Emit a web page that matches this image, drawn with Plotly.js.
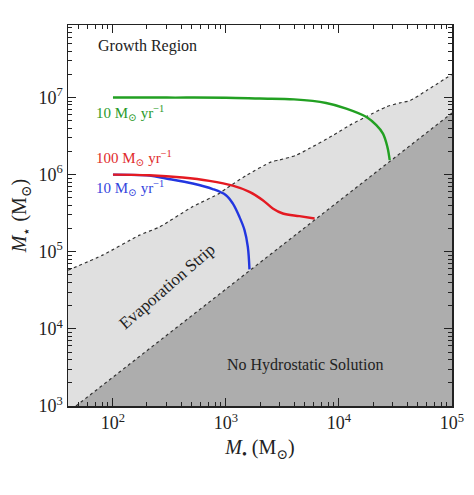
<!DOCTYPE html>
<html>
<head>
<meta charset="utf-8">
<script src="https://cdn.plot.ly/plotly-3.0.1.min.js"></script>
<style>html,body{margin:0;padding:0;background:#fff;}#chart{width:474px;height:495px;}</style>
</head>
<body>
<div id="chart"></div>
<script>
// Upper edge of the evaporation strip (dotted)
const stripTopX = [40, 81, 172, 257, 501, 871, 1007, 1514, 2512, 2985, 4169, 5495, 8913, 12450, 17380, 26300, 34670, 42660, 59570, 100000];
const stripTopY = [5.75e4, 9.04e4, 1.64e5, 2.09e5, 3.80e5, 5.69e5, 6.61e5, 9.77e5, 1.46e6, 1.55e6, 1.78e6, 2.19e6, 3.24e6, 4.37e6, 5.62e6, 7.59e6, 8.51e6, 9.12e6, 1.23e7, 2.0e7];
// Boundary of the no-hydrostatic-solution region (dotted)
const noHydroX = [47, 100000];
const noHydroY = [1e3, 6.3e6];
// Growth tracks
const green10X = [100, 300, 1000, 2000, 4000, 7700, 11600, 17500, 21400, 24500, 26800, 28100];
const green10Y = [1.0e7, 9.97e6, 9.93e6, 9.68e6, 9.44e6, 8.49e6, 7.18e6, 5.58e6, 4.37e6, 3.40e6, 2.29e6, 1.54e6];
const red100X = [100, 210, 414, 713, 1148, 1614, 2118, 2594, 3184, 4467, 6081];
const red100Y = [1e6, 9.82e5, 9.16e5, 8.28e5, 7.18e5, 5.97e5, 4.66e5, 3.64e5, 3.13e5, 2.89e5, 2.70e5];
const blue10X = [100, 210, 295, 508, 764, 1000, 1148, 1315, 1459, 1560, 1614];
const blue10Y = [1e6, 9.7e5, 8.91e5, 7.67e5, 6.5e5, 5.41e5, 4.23e5, 2.83e5, 1.91e5, 1.16e5, 5.9e4];
// Axes
const xMin = 40, xMax = 1e5, yMin = 1e3, yMax = 8.7e7;
const xTickVals = [100, 1000, 10000, 100000];
const xTickText = ['10<sup>2</sup>', '10<sup>3</sup>', '10<sup>4</sup>', '10<sup>5</sup>'];
const yTickVals = [1e3, 1e4, 1e5, 1e6, 1e7];
const yTickText = ['10<sup>3</sup>', '10<sup>4</sup>', '10<sup>5</sup>', '10<sup>6</sup>', '10<sup>7</sup>'];

const FONT = 'Liberation Serif, DejaVu Serif, serif';

// light strip polygon: top edge, then back along the lower boundary
const lightX = stripTopX.concat([noHydroX[1], noHydroX[0], xMin]);
const lightY = stripTopY.concat([noHydroY[1], noHydroY[0], yMin]);
// dark polygon under the lower boundary
const darkX = noHydroX.concat([xMax]);
const darkY = noHydroY.concat([yMin]);

const traces = [
  {x: lightX, y: lightY, mode: 'lines', fill: 'toself', fillcolor: '#e0e0e0', line: {width: 0}, hoverinfo: 'skip', showlegend: false},
  {x: darkX, y: darkY, mode: 'lines', fill: 'toself', fillcolor: '#adadad', line: {width: 0}, hoverinfo: 'skip', showlegend: false},
  {x: stripTopX, y: stripTopY, mode: 'lines', line: {color: '#333', width: 1.2, dash: 'dot', shape: 'spline', smoothing: 0.6}, showlegend: false},
  {x: noHydroX, y: noHydroY, mode: 'lines', line: {color: '#333', width: 1.2, dash: 'dot'}, showlegend: false},
  {x: green10X, y: green10Y, mode: 'lines', line: {color: '#22a022', width: 2.4, shape: 'spline'}, showlegend: false},
  {x: blue10X, y: blue10Y, mode: 'lines', line: {color: '#2236e0', width: 2.4, shape: 'spline'}, showlegend: false},
  {x: red100X, y: red100Y, mode: 'lines', line: {color: '#e41a22', width: 2.4, shape: 'spline'}, showlegend: false}
];

const axisCommon = {
  type: 'log', showgrid: false, zeroline: false,
  showline: true, linecolor: '#222', linewidth: 1.5, mirror: 'allticks',
  ticks: 'inside', ticklen: 8, tickwidth: 1, tickcolor: '#222',
  tickmode: 'array',
  tickfont: {family: FONT, size: 18, color: '#222'},
  minor: {ticks: 'inside', ticklen: 4, tickwidth: 1, tickcolor: '#222', dtick: 'D1', showgrid: false}
};

const layout = {
  width: 474, height: 495,
  margin: {l: 68, r: 22, t: 25, b: 89},
  paper_bgcolor: '#fff', plot_bgcolor: '#fff',
  showlegend: false,
  font: {family: FONT},
  xaxis: Object.assign({}, axisCommon, {
    range: [Math.log10(xMin), Math.log10(xMax)],
    tickvals: xTickVals, ticktext: xTickText,
    title: {text: '<i>M</i><sub>•</sub> (M<sub>⊙</sub>)', font: {family: FONT, size: 20, color: '#222'}, standoff: 8}
  }),
  yaxis: Object.assign({}, axisCommon, {
    range: [Math.log10(yMin), Math.log10(yMax)],
    tickvals: yTickVals, ticktext: yTickText,
    title: {text: '<i>M</i><sub>⋆</sub> (M<sub>⊙</sub>)', font: {family: FONT, size: 20, color: '#222'}, standoff: 6}
  }),
  annotations: [
    {xref: 'paper', yref: 'paper', x: 0.0729, y: 0.945, xanchor: 'left', yanchor: 'middle', showarrow: false,
     text: 'Growth Region', font: {family: FONT, size: 16, color: '#222'}},
    {xref: 'paper', yref: 'paper', x: 0.068, y: 0.77, xanchor: 'left', yanchor: 'middle', showarrow: false,
     text: '10 M<sub>⊙</sub> yr<sup>−1</sup>', font: {family: FONT, size: 15, color: '#2a9a2a'}},
    {xref: 'paper', yref: 'paper', x: 0.068, y: 0.65, xanchor: 'left', yanchor: 'middle', showarrow: false,
     text: '100 M<sub>⊙</sub> yr<sup>−1</sup>', font: {family: FONT, size: 15, color: '#e02a2a'}},
    {xref: 'paper', yref: 'paper', x: 0.068, y: 0.572, xanchor: 'left', yanchor: 'middle', showarrow: false,
     text: '10 M<sub>⊙</sub> yr<sup>−1</sup>', font: {family: FONT, size: 15, color: '#3344dd'}},
    {xref: 'paper', yref: 'paper', x: 0.258, y: 0.313, xanchor: 'center', yanchor: 'middle', showarrow: false, textangle: -41,
     text: 'Evaporation Strip', font: {family: FONT, size: 17, color: '#222'}},
    {xref: 'paper', yref: 'paper', x: 0.618, y: 0.1076, xanchor: 'center', yanchor: 'middle', showarrow: false,
     text: 'No Hydrostatic Solution', font: {family: FONT, size: 16, color: '#222'}}
  ]
};

Plotly.newPlot('chart', traces, layout, {displayModeBar: false, staticPlot: true});
</script>
</body>
</html>
